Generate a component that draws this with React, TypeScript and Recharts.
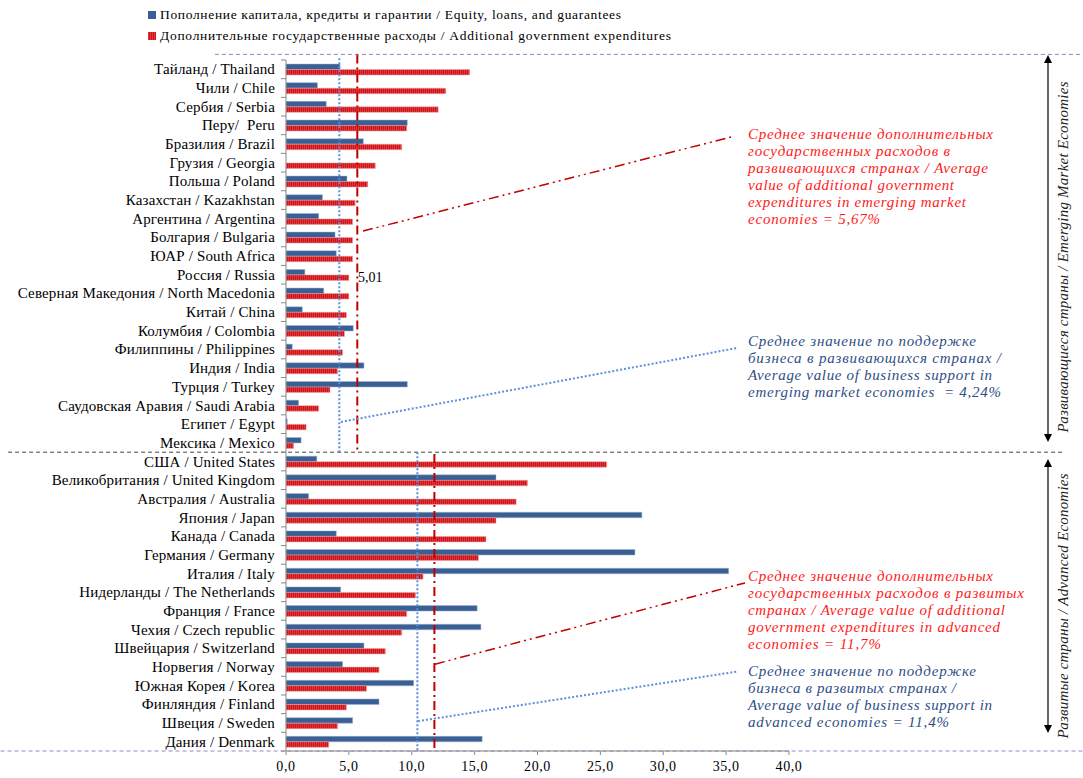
import React from 'react';
import { BarChart, Bar, XAxis, YAxis, ReferenceLine, ReferenceDot, Legend } from 'recharts';

// country labels, emerging first, then advanced
const countries = [
  'Тайланд / Thailand', 'Чили / Chile', 'Сербия / Serbia', 'Перу/  Peru', 'Бразилия / Brazil',
  'Грузия / Georgia', 'Польша / Poland', 'Казахстан / Kazakhstan', 'Аргентина / Argentina',
  'Болгария / Bulgaria', 'ЮАР / South Africa', 'Россия / Russia', 'Северная Македония / North Macedonia',
  'Китай / China', 'Колумбия / Colombia', 'Филиппины / Philippines', 'Индия / India', 'Турция / Turkey',
  'Саудовская Аравия / Saudi Arabia', 'Египет / Egypt', 'Мексика / Mexico',
  'США / United States', 'Великобритания / United Kingdom', 'Австралия / Australia', 'Япония / Japan',
  'Канада / Canada', 'Германия / Germany', 'Италия / Italy', 'Нидерланды / The Netherlands',
  'Франция / France', 'Чехия / Czech republic', 'Швейцария / Switzerland', 'Норвегия / Norway',
  'Южная Корея / Korea', 'Финляндия / Finland', 'Швеция / Sweden', 'Дания / Denmark',
];

const equityLoans = [
  4.3, 2.5, 3.2, 9.65, 6.15, 0, 4.85, 2.9, 2.6, 3.9, 4.0, 1.5, 3.0, 1.3, 5.35, 0.5, 6.2, 9.65, 1.0, 0.1, 1.2,
  2.45, 16.7, 1.8, 28.3, 4.0, 27.75, 35.2, 4.35, 15.2, 15.5, 6.2, 4.5, 10.15, 7.4, 5.3, 15.6,
];

const extraSpending = [
  14.6, 12.7, 12.1, 9.6, 9.2, 7.1, 6.5, 5.5, 5.3, 5.3, 5.3, 5.0, 5.0, 4.8, 4.65, 4.5, 4.1, 3.5, 2.6, 1.6, 0.6,
  25.5, 19.2, 18.3, 16.7, 15.9, 15.3, 10.9, 10.3, 9.6, 9.2, 7.9, 7.4, 6.4, 4.8, 4.1, 3.4,
];

const xTicks = [0, 5, 10, 15, 20, 25, 30, 35, 40];
const emergingCount = 21;

// group averages as drawn on the chart
const emergingAvgBlue = 4.24;
const emergingAvgRed = 5.67;
const advancedAvgBlue = 10.45;
const advancedAvgRed = 11.8;

const legendItems = [
  { label: 'Пополнение капитала, кредиты и гарантии / Equity, loans, and guarantees', fill: '#3a5f94', len: 473 },
  { label: 'Дополнительные государственные расходы / Additional government expenditures', fill: 'url(#redHatch)', len: 523 },
];

const notes = [
  { color: '#ff1a1a', y: 139, lines: [
    ['Среднее значение дополнительных', 245], ['государственных расходов в', 202],
    ['развивающихся странах / Average', 240], ['value of additional government', 206],
    ['expenditures in emerging market', 218], ['economies = 5,67%', 132]] },
  { color: '#2e4e86', y: 346, lines: [
    ['Среднее значение по поддержке', 228], ['бизнеса в развивающихся странах /', 253],
    ['Average value of business support in', 244], ['emerging market economies  = 4,24%', 253]] },
  { color: '#ff1a1a', y: 581, lines: [
    ['Среднее значение дополнительных', 245], ['государственных расходов в развитых', 276],
    ['странах / Average value of additional', 257], ['government expenditures in advanced', 252],
    ['economies = 11,7%', 133]] },
  { color: '#2e4e86', y: 676, lines: [
    ['Среднее значение по поддержке', 228], ['бизнеса в развитых странах /', 208],
    ['Average value of business support in', 244], ['advanced economies = 11,4%', 201]] },
];

// slot = row index, only used to give the helper axis a numeric key
const data = countries.map((name, i) => ({ name, slot: i, equity: equityLoans[i], extra: extraSpending[i] }));

const W = 1083;
const H = 778;
const PLOT_TOP = 60;
const PLOT_H = 691;
const BAND = PLOT_H / countries.length;
const serif = '"Liberation Serif", "Times New Roman", serif';

function CountryTick(props: any) {
  const { x, y, payload, index } = props;
  return (
    <g>
      <text x={x} y={y} dy={5} textAnchor="end" fontFamily={serif} fontSize={15} letterSpacing={0.15} fill="#000" style={{ whiteSpace: 'pre' }}>
        {payload.value}
      </text>
      {index === 0 && <line x1={x + 6} x2={x + 11} y1={y - BAND / 2} y2={y - BAND / 2} stroke="#888" />}
      <line x1={x + 6} x2={x + 11} y1={y + BAND / 2} y2={y + BAND / 2} stroke="#888" />
    </g>
  );
}

function LegendBox() {
  return (
    <svg width={560} height={44}>
      {legendItems.map((it, i) => (
        <g key={i} transform={`translate(0, ${i * 21})`}>
          <rect x={0} y={7} width={8} height={8} fill={it.fill} />
          <text x={12} y={15} fontFamily={serif} fontSize={13.5} fill="#000" textLength={it.len - 12}>
            {it.label}
          </text>
        </g>
      ))}
    </svg>
  );
}

function Arrow({ x, y1, y2 }: { x: number; y1: number; y2: number }) {
  return (
    <g>
      <line x1={x} x2={x} y1={y1 + 6} y2={y2 - 6} stroke="#000" strokeWidth={1.2} />
      <path d={`M${x - 4},${y1 + 8} L${x},${y1} L${x + 4},${y1 + 8} Z`} fill="#000" />
      <path d={`M${x - 4},${y2 - 8} L${x},${y2} L${x + 4},${y2 - 8} Z`} fill="#000" />
    </g>
  );
}

export default function App() {
  const dashRed = '9 4 2 4';
  return (
    <div style={{ position: 'relative', width: W, height: H, background: '#fff' }}>
      <style>{'body{margin:0}'}</style>
      <BarChart
        width={W}
        height={H}
        data={data}
        layout="vertical"
        margin={{ top: PLOT_TOP, right: W - 789, bottom: 0, left: 6 }}
        barSize={5.5}
        barGap={0}
      >
        <defs>
          <pattern id="redHatch" width={2} height={2} patternUnits="userSpaceOnUse">
            <rect width={2} height={2} fill="#e5343a" />
            <rect x={1} width={1} height={2} fill="#c8161d" />
          </pattern>
        </defs>
        <XAxis
          type="number"
          domain={[0, 40]}
          ticks={xTicks}
          height={27}
          stroke="#888"
          tickSize={4}
          tickMargin={6}
          tick={{ fontFamily: serif, fontSize: 14, fill: '#000', letterSpacing: 0.6 }}
          tickFormatter={(v: number) => v.toFixed(1).replace('.', ',')}
        />
        <YAxis
          yAxisId="cat"
          type="category"
          dataKey="name"
          width={280}
          interval={0}
          tickLine={false}
          tickSize={6}
          tickMargin={5}
          axisLine={{ stroke: '#888' }}
          tick={<CountryTick />}
        />
        <YAxis yAxisId="num" type="number" dataKey="slot" domain={[0, countries.length]} hide allowDataOverflow />
        <Legend
          layout="vertical"
          align="center"
          verticalAlign="middle"
          content={<LegendBox />}
          wrapperStyle={{ position: 'absolute', top: 4, left: 148, width: 560, height: 44 }}
        />
        <Bar yAxisId="cat" dataKey="equity" fill="#3a5f94" stroke="#9fb4d2" strokeWidth={0.5} isAnimationActive={false} />
        <Bar yAxisId="cat" dataKey="extra" fill="url(#redHatch)" stroke="#f0a0a0" strokeWidth={0.5} isAnimationActive={false} />

        {/* dashed section dividers */}
        <ReferenceLine yAxisId="num" ifOverflow="visible" stroke="#9a86c8" strokeDasharray="4 3"
          segment={[{ x: -5.65, y: -0.3 }, { x: 63.4, y: -0.3 }]} />
        <ReferenceLine yAxisId="num" ifOverflow="visible" stroke="#444" strokeDasharray="4 3"
          segment={[{ x: -22.1, y: emergingCount }, { x: 61.9, y: emergingCount }]} />
        <ReferenceLine yAxisId="num" ifOverflow="visible" stroke="#9a86c8" strokeDasharray="4 3"
          segment={[{ x: -22.7, y: countries.length }, { x: 63.4, y: countries.length }]} />

        {/* averages */}
        <ReferenceLine yAxisId="num" ifOverflow="visible" stroke="#5b8fdc" strokeWidth={2} strokeDasharray="2 2"
          segment={[{ x: emergingAvgBlue, y: -0.1 }, { x: emergingAvgBlue, y: emergingCount }]} />
        <ReferenceLine yAxisId="num" ifOverflow="visible" stroke="#c00000" strokeWidth={2} strokeDasharray={dashRed}
          segment={[{ x: emergingAvgRed, y: -0.3 }, { x: emergingAvgRed, y: emergingCount }]} />
        <ReferenceLine yAxisId="num" ifOverflow="visible" stroke="#5b8fdc" strokeWidth={2} strokeDasharray="2 2"
          segment={[{ x: advancedAvgBlue, y: emergingCount }, { x: advancedAvgBlue, y: countries.length }]} />
        <ReferenceLine yAxisId="num" ifOverflow="visible" stroke="#c00000" strokeWidth={2} strokeDasharray={dashRed}
          segment={[{ x: advancedAvgRed, y: emergingCount + 0.1 }, { x: advancedAvgRed, y: countries.length }]} />

        {/* connectors to notes */}
        <ReferenceLine yAxisId="num" ifOverflow="visible" stroke="#c00000" strokeWidth={1.5} strokeDasharray="10 4 2 4 2 4"
          segment={[{ x: 6.12, y: 9.16 }, { x: 35.7, y: 4.07 }]} />
        <ReferenceLine yAxisId="num" ifOverflow="visible" stroke="#5b8fdc" strokeWidth={2} strokeDasharray="2 2"
          segment={[{ x: 4.37, y: 19.38 }, { x: 35.87, y: 15.42 }]} />
        <ReferenceLine yAxisId="num" ifOverflow="visible" stroke="#c00000" strokeWidth={1.5} strokeDasharray="10 4 2 4 2 4"
          segment={[{ x: 11.85, y: 32.35 }, { x: 36.5, y: 28.0 }]} />
        <ReferenceLine yAxisId="num" ifOverflow="visible" stroke="#5b8fdc" strokeWidth={2} strokeDasharray="2 2"
          segment={[{ x: 10.5, y: 35.4 }, { x: 35.84, y: 32.75 }]} />

        <ReferenceDot yAxisId="num" x={5.72} y={11.6} r={0} ifOverflow="visible"
          label={{ value: '5,01', position: 'right', offset: 0, fontFamily: serif, fontSize: 14, fill: '#000' }} />
      </BarChart>

      <svg width={W} height={H} style={{ position: 'absolute', left: 0, top: 0, pointerEvents: 'none' }}>
        <Arrow x={1048} y1={55} y2={442} />
        <Arrow x={1048} y1={459} y2={733} />
        <text transform="translate(1068,257) rotate(-90)" textAnchor="middle" fontFamily={serif} fontStyle="italic"
          fontSize={15} fill="#222" textLength={351}>
          Развивающиеся страны / Emerging Market Economies
        </text>
        <text transform="translate(1068,606) rotate(-90)" textAnchor="middle" fontFamily={serif} fontStyle="italic"
          fontSize={15} fill="#222" textLength={265}>
          Развитые страны / Advanced Economies
        </text>
        {notes.map((n, i) => (
          <g key={i}>
            {n.lines.map(([txt, len], j) => (
              <text key={j} x={748} y={n.y + j * 17} fontFamily={serif} fontStyle="italic" fontSize={15}
                fill={n.color} textLength={len as number} style={{ whiteSpace: 'pre' }}>
                {txt}
              </text>
            ))}
          </g>
        ))}
      </svg>
    </div>
  );
}
